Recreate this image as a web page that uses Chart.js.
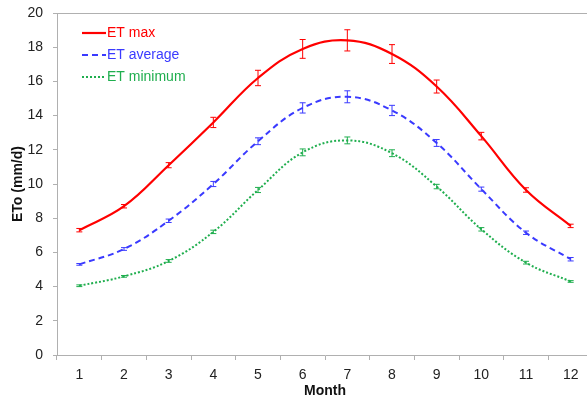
<!DOCTYPE html>
<html>
<head>
<meta charset="utf-8">
<script src="https://cdn.jsdelivr.net/npm/chart.js@4.4.0/dist/chart.umd.min.js"></script>
<style>
  html, body { margin: 0; padding: 0; background: #fff; overflow: hidden; }
  #wrap { width: 594px; height: 404px; }
</style>
</head>
<body>
<div id="wrap"><canvas id="etChart" width="594" height="404"></canvas></div>
<script>
// Data
const months = ['1', '2', '3', '4', '5', '6', '7', '8', '9', '10', '11', '12'];
const etMax = [7.3, 8.7, 11.1, 13.6, 16.2, 17.9, 18.4, 17.6, 15.7, 12.8, 9.65, 7.55];
const etAvg = [5.3, 6.2, 7.85, 10.0, 12.5, 14.45, 15.1, 14.3, 12.4, 9.7, 7.15, 5.6];
const etMin = [4.05, 4.6, 5.5, 7.2, 9.65, 11.85, 12.55, 11.8, 9.85, 7.35, 5.4, 4.3];
const errMax = [0.1, 0.1, 0.15, 0.3, 0.45, 0.55, 0.62, 0.55, 0.38, 0.22, 0.13, 0.1];
const errAvg = [0.05, 0.08, 0.1, 0.15, 0.2, 0.3, 0.35, 0.3, 0.2, 0.12, 0.1, 0.1];
const errMin = [0.05, 0.05, 0.08, 0.1, 0.15, 0.2, 0.2, 0.2, 0.13, 0.1, 0.08, 0.05];

const FONT = "'Liberation Sans', Arial, sans-serif";
const AXIS_GRAY = '#b0b0b0';

// error bars, drawn from the y scale
const errorBars = {
  id: 'errorBars',
  afterDatasetsDraw(chart) {
    const ctx = chart.ctx;
    const y = chart.scales.y;
    chart.data.datasets.forEach((ds, i) => {
      const meta = chart.getDatasetMeta(i);
      ctx.save();
      ctx.strokeStyle = ds.borderColor;
      ctx.lineWidth = 1;
      meta.data.forEach((pt, j) => {
        const e = ds.errors[j];
        const top = y.getPixelForValue(ds.data[j] + e);
        const bot = y.getPixelForValue(ds.data[j] - e);
        ctx.beginPath();
        ctx.moveTo(pt.x, top); ctx.lineTo(pt.x, bot);
        ctx.moveTo(pt.x - 3, top); ctx.lineTo(pt.x + 3, top);
        ctx.moveTo(pt.x - 3, bot); ctx.lineTo(pt.x + 3, bot);
        ctx.stroke();
      });
      ctx.restore();
    });
  }
};

// top border of the plot area + legend inside it
const frameAndLegend = {
  id: 'frameAndLegend',
  afterDraw(chart) {
    const ctx = chart.ctx;
    const a = chart.chartArea;
    ctx.save();
    ctx.strokeStyle = AXIS_GRAY;
    ctx.lineWidth = 1;
    ctx.beginPath();
    ctx.moveTo(a.left, a.top + 0.5); ctx.lineTo(a.right, a.top + 0.5);
    ctx.stroke();

    ctx.font = '14px ' + FONT;
    ctx.textBaseline = 'middle';
    chart.data.datasets.forEach((ds, i) => {
      const yy = 33 + i * 22;
      ctx.strokeStyle = ds.borderColor;
      ctx.lineWidth = ds.borderWidth;
      ctx.setLineDash(ds.borderDash || []);
      ctx.beginPath();
      ctx.moveTo(82, yy); ctx.lineTo(106, yy);
      ctx.stroke();
      ctx.setLineDash([]);
      ctx.fillStyle = ds.borderColor;
      ctx.fillText(ds.label, 107, yy);
    });
    ctx.restore();
  }
};

const ctx = document.getElementById('etChart').getContext('2d');
new Chart(ctx, {
  type: 'line',
  data: {
    labels: months,
    datasets: [
      { label: 'ET max', data: etMax, errors: errMax, borderColor: '#ff0000', borderWidth: 2.2 },
      { label: 'ET average', data: etAvg, errors: errAvg, borderColor: '#3a3aff', borderWidth: 2, borderDash: [6, 4] },
      { label: 'ET minimum', data: etMin, errors: errMin, borderColor: '#1fae4e', borderWidth: 2, borderDash: [2, 2] }
    ]
  },
  options: {
    responsive: false,
    animation: false,
    layout: { padding: { top: 13, right: 1, left: 0, bottom: 0 } },
    elements: {
      point: { radius: 0 },
      line: { tension: 0.4, fill: false }
    },
    scales: {
      x: {
        offset: true,
        grid: { offset: true, drawOnChartArea: false, tickLength: 5, color: AXIS_GRAY },
        border: { color: AXIS_GRAY },
        ticks: { color: '#222', font: { family: FONT, size: 14 }, padding: 7, maxRotation: 0 },
        title: { display: true, text: 'Month', color: '#111', font: { family: FONT, size: 14, weight: 'bold' }, padding: { top: 3 } },
        afterFit: s => { s.height = 49; }
      },
      y: {
        min: 0,
        max: 20,
        ticks: {
          stepSize: 1,
          color: '#222',
          font: { family: FONT, size: 14 },
          padding: 10,
          callback: v => (v % 2 === 0 ? v : '')
        },
        grid: { drawOnChartArea: false, tickLength: 4, color: AXIS_GRAY },
        border: { color: AXIS_GRAY },
        title: { display: true, text: 'ETo (mm/d)', color: '#111', font: { family: FONT, size: 14, weight: 'bold' }, padding: { top: 10, bottom: 0 } },
        afterFit: s => { s.width = 57; s.paddingTop = 0; s.paddingBottom = 0; }
      }
    },
    plugins: {
      legend: { display: false },
      tooltip: { enabled: false }
    }
  },
  plugins: [errorBars, frameAndLegend]
});
</script>
</body>
</html>
